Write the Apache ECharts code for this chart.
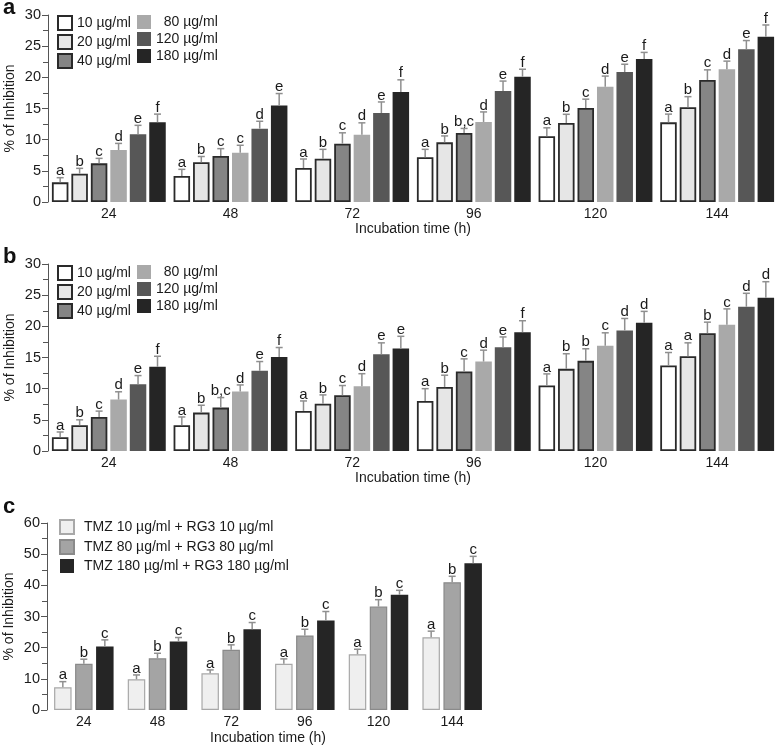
<!DOCTYPE html>
<html>
<head>
<meta charset="utf-8">
<script src="https://cdn.jsdelivr.net/npm/echarts@6/dist/echarts.min.js"></script>
<style>
  html, body { margin: 0; padding: 0; background: #fff; }
  #chart { width: 778px; height: 747px; }
</style>
</head>
<body>
<div id="chart"></div>
<script>
// categories
var hours = ['24', '48', '72', '96', '120', '144'];
var doses = ['10 µg/ml', '20 µg/ml', '40 µg/ml', '80 µg/ml', '120 µg/ml', '180 µg/ml'];
var combos = ['TMZ 10 µg/ml + RG3 10 µg/ml', 'TMZ 80 µg/ml + RG3 80 µg/ml', 'TMZ 180 µg/ml + RG3 180 µg/ml'];

// panel a: mean % of inhibition (one row per dose, one value per hour)
var aMeans = [
  [3.15, 4.17, 5.45, 7.17, 10.54, 12.78],
  [4.55, 6.37, 6.95, 9.57, 12.68, 15.19],
  [6.2, 7.38, 9.36, 11.07, 15.1, 19.57],
  [8.35, 7.9, 10.8, 12.84, 18.5, 21.29],
  [10.85, 11.77, 14.28, 17.8, 20.86, 24.5],
  [12.8, 15.5, 17.65, 20.1, 22.95, 26.5]
];
var aSd = [
  [0.75, 1.07, 1.45, 1.28, 1.36, 1.32],
  [0.85, 0.93, 1.5, 1.03, 1.39, 1.71],
  [0.8, 1.18, 1.74, 0.73, 1.4, 1.63],
  [1.05, 1.2, 1.9, 1.61, 1.7, 1.31],
  [1.45, 1.18, 1.77, 1.6, 1.24, 1.4],
  [1.3, 1.9, 1.95, 1.2, 1.05, 1.9]
];
var aLetters = [
  ['a', 'a', 'a', 'a', 'a', 'a'],
  ['b', 'b', 'b', 'b', 'b', 'b'],
  ['c', 'c', 'c', 'b,c', 'c', 'c'],
  ['d', 'c', 'd', 'd', 'd', 'd'],
  ['e', 'd', 'e', 'e', 'e', 'e'],
  ['f', 'e', 'f', 'f', 'f', 'f']
];

// panel b
var bMeans = [
  [2.2, 4.12, 6.43, 8.03, 10.5, 13.71],
  [4.12, 6.16, 7.6, 10.28, 13.18, 15.2],
  [5.46, 6.96, 8.94, 12.75, 14.46, 18.9],
  [8.25, 9.53, 10.4, 14.35, 16.87, 20.25],
  [10.7, 12.86, 15.53, 16.66, 19.34, 23.14],
  [13.5, 15.1, 16.44, 19.07, 20.57, 24.59]
];
var bSd = [
  [0.85, 1.34, 1.6, 1.97, 1.87, 2.09],
  [0.88, 1.18, 1.4, 1.88, 2.42, 2.15],
  [0.94, 1.61, 1.56, 2.03, 1.94, 1.77],
  [1.25, 1.07, 2.0, 1.83, 2.09, 2.55],
  [1.4, 1.49, 1.82, 1.64, 1.92, 2.16],
  [1.7, 1.5, 1.96, 1.83, 1.83, 2.57]
];
var bLetters = [
  ['a', 'a', 'a', 'a', 'a', 'a'],
  ['b', 'b', 'b', 'b', 'b', 'a'],
  ['c', 'b,c', 'c', 'c', 'b', 'b'],
  ['d', 'd', 'd', 'd', 'c', 'c'],
  ['e', 'e', 'e', 'e', 'd', 'd'],
  ['f', 'f', 'e', 'f', 'd', 'd']
];

// panel c
var cMeans = [
  [7.3, 9.86, 11.8, 14.8, 17.9, 23.36],
  [14.8, 16.6, 19.3, 23.9, 33.2, 41.0],
  [20.36, 21.97, 25.9, 28.7, 36.96, 47.1]
];
var cSd = [
  [1.8, 1.39, 1.06, 1.6, 1.6, 1.94],
  [1.5, 1.6, 1.6, 2.0, 2.2, 1.9],
  [2.14, 1.28, 2.17, 2.9, 1.44, 2.2]
];
var cLetters = [
  ['a', 'a', 'a', 'a', 'a', 'a'],
  ['b', 'b', 'b', 'b', 'b', 'b'],
  ['c', 'c', 'c', 'c', 'c', 'c']
];

var FONT = '"Liberation Sans", Arial, sans-serif';
var TXT = '#1a1a1a';

var doseStyles = [
  { color: '#ffffff', borderColor: '#2a2a2a', borderWidth: 1.8 },
  { color: '#e6e6e6', borderColor: '#2a2a2a', borderWidth: 1.8 },
  { color: '#858585', borderColor: '#2a2a2a', borderWidth: 1.8 },
  { color: '#a9a9a9' },
  { color: '#575757' },
  { color: '#252525' }
];
var comboStyles = [
  { color: '#efefef', borderColor: '#a8a8a8', borderWidth: 1.2 },
  { color: '#a4a4a4', borderColor: '#8a8a8a', borderWidth: 1.2 },
  { color: '#252525' }
];

var chart = echarts.init(document.getElementById('chart'));

var series = [];

function addPanel(idx, names, means, sds, letters, styles, barW, gap) {
  var n = names.length;
  var rows = [];
  var rowLetters = [];
  names.forEach(function (name, s) {
    series.push({
      type: 'bar',
      name: name,
      xAxisIndex: idx,
      yAxisIndex: idx,
      data: means[s],
      barWidth: barW,
      barGap: (gap * 100) + '%',
      itemStyle: styles[s],
      emphasis: { disabled: true },
      z: 2
    });
    means[s].forEach(function (v, c) {
      rows.push([c, v, v + sds[s][c], s]);
      rowLetters.push(letters[s][c]);
    });
  });
  // error bars + significance letters, placed on the same offsets as the bars
  series.push({
    type: 'custom',
    xAxisIndex: idx,
    yAxisIndex: idx,
    data: rows,
    encode: { x: 0, y: [1, 2] },
    z: 3,
    silent: true,
    renderItem: function (params, api) {
      var c = api.value(0);
      var s = api.value(3);
      var base = api.coord([c, api.value(1)]);
      var hi = api.coord([c, api.value(2)]);
      var step = barW * (1 + gap);
      var sum = n * step - barW * gap;
      var x = base[0] - sum / 2 + s * step + barW / 2;
      var lineStyle = { stroke: '#8f8f8f', lineWidth: 1.5 };
      return {
        type: 'group',
        children: [
          { type: 'line', shape: { x1: x, y1: base[1], x2: x, y2: hi[1] }, style: lineStyle },
          { type: 'line', shape: { x1: x - 3.5, y1: hi[1], x2: x + 3.5, y2: hi[1] }, style: lineStyle },
          {
            type: 'text', x: x, y: hi[1] + 1,
            style: {
              text: rowLetters[params.dataIndex],
              fontSize: 15, fontFamily: FONT, fill: TXT,
              align: 'center', verticalAlign: 'bottom'
            }
          }
        ]
      };
    }
  });
}

addPanel(0, doses, aMeans, aSd, aLetters, doseStyles, 16.5, 0.18);
addPanel(1, doses, bMeans, bSd, bLetters, doseStyles, 16.5, 0.18);
addPanel(2, combos, cMeans, cSd, cLetters, comboStyles, 17.5, 0.2);

function xAxis(idx, gap) {
  return {
    type: 'category',
    gridIndex: idx,
    data: hours,
    name: 'Incubation time (h)',
    nameLocation: 'middle',
    nameGap: gap,
    nameMoveOverlap: false,
    nameTextStyle: { fontSize: 14, fontFamily: FONT, color: TXT },
    axisLine: { show: false },
    axisTick: { show: false },
    axisLabel: { fontSize: 14, fontFamily: FONT, color: TXT, margin: 5 }
  };
}

function yAxis(idx, max, interval) {
  return {
    type: 'value',
    gridIndex: idx,
    min: 0,
    max: max,
    interval: interval,
    name: '% of Inhibition',
    nameLocation: 'middle',
    nameGap: 31,
    nameMoveOverlap: false,
    nameTextStyle: { fontSize: 14, fontFamily: FONT, color: TXT },
    axisLine: { show: true, lineStyle: { color: '#555', width: 1 } },
    axisTick: { show: true, length: 6, lineStyle: { color: '#555' } },
    minorTick: { show: true, splitNumber: 2, length: 5, lineStyle: { color: '#555' } },
    splitLine: { show: false },
    axisLabel: { fontSize: 14.5, fontFamily: FONT, color: TXT, margin: 7 }
  };
}

function legend(top, left, names, gap) {
  return {
    orient: 'vertical',
    left: left,
    top: top,
    padding: 0,
    icon: 'rect',
    itemWidth: 14,
    itemHeight: 14,
    itemGap: gap,
    selectedMode: false,
    data: names,
    textStyle: { fontSize: 14, fontFamily: FONT, color: TXT, lineHeight: 14 },
    formatter: function (name) {
      return name === '80 µg/ml' ? '\u00a0\u00a0' + name : name;
    }
  };
}

var option = {
  animation: false,
  backgroundColor: '#fff',
  title: [
    { text: 'a', left: 3, top: -3, padding: 0, textStyle: { fontSize: 22, fontWeight: 'bold', fontFamily: FONT, color: '#111' } },
    { text: 'b', left: 3, top: 246, padding: 0, textStyle: { fontSize: 22, fontWeight: 'bold', fontFamily: FONT, color: '#111' } },
    { text: 'c', left: 3, top: 496, padding: 0, textStyle: { fontSize: 22, fontWeight: 'bold', fontFamily: FONT, color: '#111' } }
  ],
  legend: [
    legend(15, 57, doses.slice(0, 3), 3),
    legend(15, 137, doses.slice(3), 3),
    legend(265, 57, doses.slice(0, 3), 3),
    legend(265, 137, doses.slice(3), 3),
    Object.assign(legend(519, 59, combos, 4), { textStyle: { fontSize: 14, fontFamily: FONT, color: TXT, lineHeight: 14, padding: [0, 0, 0, 5] } })
  ],
  grid: [
    { left: 48, right: 0, top: 15, height: 187, outerBoundsMode: 'none' },
    { left: 48, right: 0, top: 264, height: 187, outerBoundsMode: 'none' },
    { left: 47, right: 289, top: 523, height: 187, outerBoundsMode: 'none' }
  ],
  xAxis: [xAxis(0, 20), xAxis(1, 20), xAxis(2, 21)],
  yAxis: [yAxis(0, 30, 5), yAxis(1, 30, 5), yAxis(2, 60, 10)],
  series: series
};

chart.setOption(option);
</script>
</body>
</html>
